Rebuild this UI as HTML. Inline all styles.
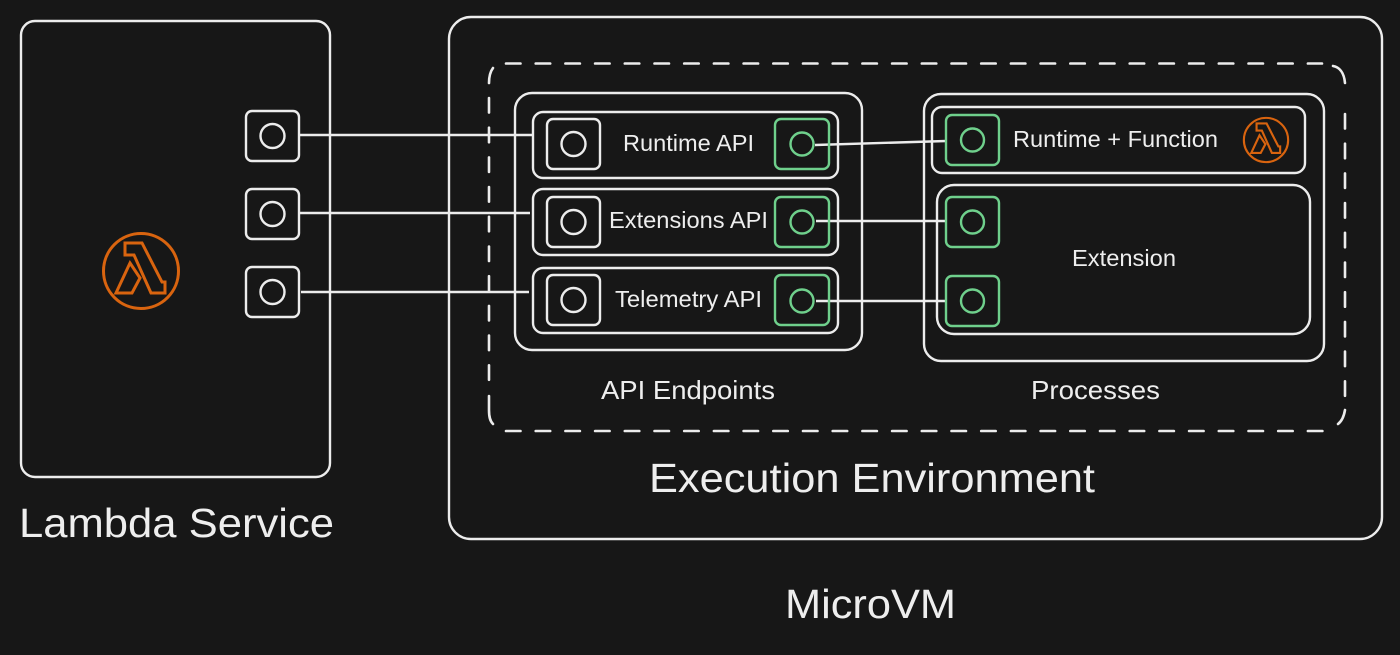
<!DOCTYPE html>
<html><head><meta charset="utf-8"><style>
html,body{margin:0;padding:0;background:#171717;width:1400px;height:655px;overflow:hidden}
svg{display:block}
text{font-family:"Liberation Sans",sans-serif;fill:#eeeeee}
.b{fill:none;stroke:#ececec;stroke-width:2.4}
.g{fill:none;stroke:#6fd08c;stroke-width:2.4}
.o{fill:none;stroke:#d9640f}
.d{fill:none;stroke:#ececec;stroke-width:2.6;stroke-linecap:round}
.s{stroke-dasharray:14.5 15.2}
</style></head><body>
<svg width="1400" height="655" viewBox="0 0 1400 655" xmlns="http://www.w3.org/2000/svg">
<rect width="1400" height="655" fill="#171717"/>
<rect class="b" x="21" y="21" width="309" height="456" rx="14"/>
<rect class="b" x="449" y="17" width="933" height="522" rx="22"/>
<path class="d s" d="M506 63.500H1322"/>
<path class="d s" d="M506 431H1326"/>
<path class="d s" d="M489 98V382"/>
<path class="d s" d="M1345 114V398"/>
<path class="d" d="M489 83C489 77 490 72 493 68M489 396V410C489 417 490 421 493 424M1345 410C1344 416 1342 421 1338 424M1333 66C1339 67 1344 72 1345 83"/>
<rect class="b" x="515" y="93" width="347" height="257" rx="17"/>
<rect class="b" x="533" y="112" width="305" height="66" rx="10"/>
<rect class="b" x="533" y="189" width="305" height="66" rx="10"/>
<rect class="b" x="533" y="268" width="305" height="65" rx="10"/>
<rect class="b" x="924" y="94" width="400" height="267" rx="17"/>
<rect class="b" x="932" y="107" width="373" height="66" rx="10"/>
<rect class="b" x="937" y="185" width="373" height="149" rx="17"/>
<g class="b">
<path d="M300 135H532M300 213H530M301 292H529M815 145L946 141M816 221H946M816 301H946"/>
</g>
<g class="b">
<rect x="246" y="111" width="53" height="50" rx="6"/><circle cx="272.500" cy="136" r="12"/>
<rect x="246" y="189" width="53" height="50" rx="6"/><circle cx="272.500" cy="214" r="12"/>
<rect x="246" y="267" width="53" height="50" rx="6"/><circle cx="272.500" cy="292" r="12"/>
<rect x="547" y="119" width="53" height="50" rx="6"/><circle cx="573.500" cy="144" r="12"/>
<rect x="547" y="197" width="53" height="50" rx="6"/><circle cx="573.500" cy="222" r="12"/>
<rect x="547" y="275" width="53" height="50" rx="6"/><circle cx="573.500" cy="300" r="12"/>
</g>
<g class="g">
<rect x="775" y="119" width="54" height="50" rx="6"/><circle cx="802" cy="144" r="11.500"/>
<rect x="775" y="197" width="54" height="50" rx="6"/><circle cx="802" cy="222" r="11.500"/>
<rect x="775" y="275" width="54" height="50" rx="6"/><circle cx="802" cy="301" r="11.500"/>
<rect x="946" y="115" width="53" height="50" rx="6"/><circle cx="972.500" cy="140" r="11.500"/>
<rect x="946" y="197" width="53" height="50" rx="6"/><circle cx="972.500" cy="222" r="11.500"/>
<rect x="946" y="276" width="53" height="50" rx="6"/><circle cx="972.500" cy="301" r="11.500"/>
</g>
<g class="o" stroke-width="3" transform="translate(141 271)">
<circle r="37.500"/>
<path d="M-16-28H1L21 11H24V22H10L-7-16H-16Z"/>
<path d="M-11-8L-1 7-9 22H-25Z"/>
</g>
<g class="o" stroke-width="3.600" transform="translate(1266 140) scale(.59)">
<circle r="37.500"/>
<path d="M-16-28H1L21 11H24V22H10L-7-16H-16Z"/>
<path d="M-11-8L-1 7-9 22H-25Z"/>
</g>
<text x="623" y="151" font-size="23" textLength="131" lengthAdjust="spacingAndGlyphs">Runtime API</text>
<text x="609" y="228" font-size="23" textLength="159" lengthAdjust="spacingAndGlyphs">Extensions API</text>
<text x="615" y="307" font-size="23" textLength="147" lengthAdjust="spacingAndGlyphs">Telemetry API</text>
<text x="1013" y="147" font-size="23" textLength="205" lengthAdjust="spacingAndGlyphs">Runtime + Function</text>
<text x="1072" y="266" font-size="23" textLength="104" lengthAdjust="spacingAndGlyphs">Extension</text>
<text x="601" y="399" font-size="26" textLength="174" lengthAdjust="spacingAndGlyphs">API Endpoints</text>
<text x="1031" y="399" font-size="26" textLength="129" lengthAdjust="spacingAndGlyphs">Processes</text>
<text x="649" y="492" font-size="41" textLength="446" lengthAdjust="spacingAndGlyphs">Execution Environment</text>
<text x="19" y="537" font-size="41" textLength="315" lengthAdjust="spacingAndGlyphs">Lambda Service</text>
<text x="785" y="618" font-size="41" textLength="171" lengthAdjust="spacingAndGlyphs">MicroVM</text>
</svg>
</body></html>
